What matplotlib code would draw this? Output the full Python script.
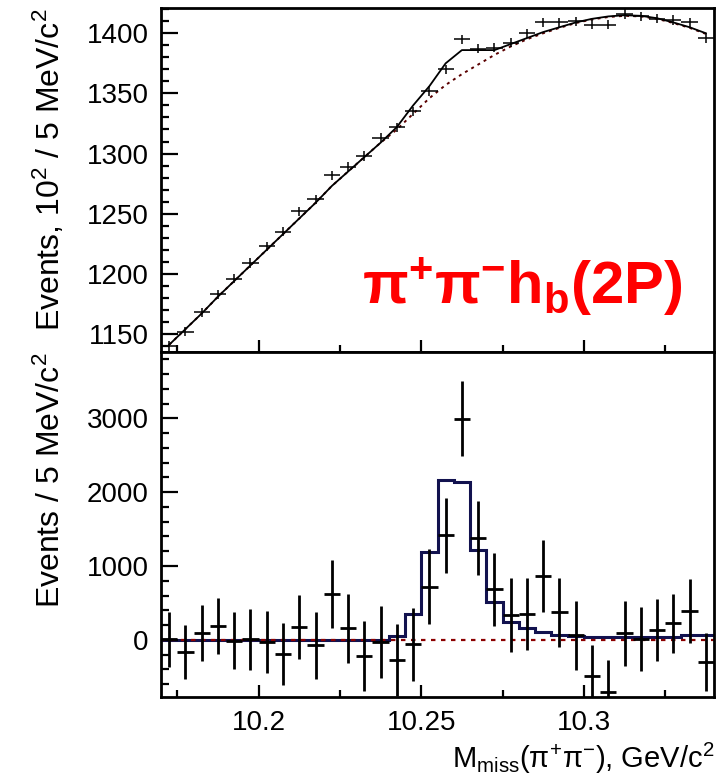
import numpy as np
import matplotlib
matplotlib.use("Agg")
from matplotlib import pyplot as plt
from matplotlib.ticker import MultipleLocator

plt.rcParams['font.family'] = ['Liberation Sans', 'DejaVu Sans']
plt.rcParams['mathtext.fontset'] = 'custom'
plt.rcParams['mathtext.rm'] = 'Liberation Sans'
plt.rcParams['mathtext.it'] = 'Liberation Sans:italic'
plt.rcParams['mathtext.bf'] = 'Liberation Sans:bold'

# 5 MeV bins from 10.17 to 10.34 GeV
bin_lo = 10.17
bin_w = 0.005
nbins = 34

# upper panel: events in units of 10^2
top_data = [1140, 1152, 1168, 1183, 1196, 1209, 1223, 1235, 1252, 1262,
            1282, 1289, 1298, 1313, 1322, 1335, 1352, 1370, 1395, 1387,
            1388, 1392, 1400, 1409, 1409, 1410, 1407, 1407, 1416, 1414,
            1412, 1411, 1409, 1396]
top_err = [3.8] * nbins
top_fit = [1141, 1154, 1167, 1181, 1194, 1207, 1220, 1233, 1246, 1259,
           1273, 1285, 1297, 1309, 1322, 1340, 1356, 1375, 1386, 1386,
           1386, 1391, 1396, 1401, 1405, 1409, 1412, 1414, 1415, 1414.5,
           1412.5, 1409, 1405, 1400]
top_bkg = [1141, 1154, 1167, 1181, 1194, 1207, 1220, 1233, 1246, 1259,
           1273, 1285, 1297, 1309, 1320, 1333, 1346, 1357, 1366, 1374,
           1382, 1389, 1395, 1400, 1404.5, 1408.5, 1411.5, 1413.5, 1414.5, 1414,
           1412, 1408.5, 1404.5, 1399.5]

# lower panel: background subtracted
bot_data = [10, -168, 95, 186, -10, 5, -35, -198, 177, -75,
            622, 154, -218, -31, -268, -59, 721, 1415, 2997, 1378,
            684, 335, 349, 866, 371, 59, -495, -707, 86, 10,
            131, 222, 390, -300]
bot_err = [372, 363, 379, 385, 385, 408, 420, 420, 435, 458,
           465, 465, 470, 488, 488, 494, 503, 505, 505, 505,
           494, 499, 488, 488, 470, 465, 431, 431, 440, 431,
           424, 404, 431, 392]
bot_fit = [0, 0, 0, 0, 0, 0, 0, 0, 0, 0,
           0, 0, 0, 0, 50, 350, 1185, 2170, 2140, 1220,
           510, 235, 155, 110, 65, 50, 35, 35, 35, 35,
           35, 35, 60, 60]

edges = bin_lo + bin_w * np.arange(nbins + 1)
centers = edges[:-1] + bin_w / 2

fig = plt.figure(figsize=(7.2, 7.81), dpi=100)
L, R = 161 / 720, 714 / 720
ax1 = fig.add_axes([L, 1 - 352 / 781, R - L, 344 / 781])
ax2 = fig.add_axes([L, 1 - 697 / 781, R - L, 345 / 781])

# top panel
ax1.plot(centers, top_bkg, color='#5a0000', ls=(0, (1.5, 2.2)), lw=1.4)
ax1.plot(centers, top_fit, color='k', lw=1.3)
ax1.errorbar(centers, top_data, xerr=bin_w / 2, yerr=top_err, fmt='none',
             ecolor='k', elinewidth=1.1, capsize=0)
ax1.set_ylim(1135, 1421)
ax1.set_yticks([1150, 1200, 1250, 1300, 1350, 1400])
ax1.yaxis.set_minor_locator(MultipleLocator(10))
ax1.set_ylabel(r'Events, 10$^{2}$ / 5 MeV/c$^{2}$', fontsize=23, loc='top',
               labelpad=14)
ax1.text(0.3635, 0.137, r'$\mathbf{\pi^{+}\pi^{-}h_{b}(2P)}$', color='#ff0000',
         fontsize=43, transform=ax1.transAxes, va='baseline', ha='left')

# bottom panel
ax2.axhline(0, color='#8b0000', ls=(0, (2, 2.5)), lw=1.6)
ax2.stairs(bot_fit, edges, color='#12124f', lw=2.2, baseline=None)
ax2.errorbar(centers, bot_data, xerr=bin_w / 2, yerr=bot_err, fmt='none',
             ecolor='k', elinewidth=2.0, capsize=0)
ax2.set_ylim(-775, 3900)
ax2.set_yticks([0, 1000, 2000, 3000])
ax2.yaxis.set_minor_locator(MultipleLocator(200))
ax2.set_ylabel(r'Events / 5 MeV/c$^{2}$', fontsize=23, loc='top',
               labelpad=14)
ax2.set_xlabel(r'M$_{\mathrm{miss}}$($\mathrm{\pi^{+}\pi^{-}}$), GeV/c$^{2}$',
               fontsize=21, loc='right', labelpad=4)

for ax in (ax1, ax2):
    ax.set_xlim(10.17, 10.34)
    ax.set_xticks([10.2, 10.25, 10.3])
    ax.xaxis.set_minor_locator(MultipleLocator(0.025))
    for s in ax.spines.values():
        s.set_linewidth(2.0)
    ax.tick_params(which='both', direction='in', top=False, right=False,
                   width=1.6, labelsize=20, pad=9)
    ax.tick_params(axis='y', which='major', length=12)
    ax.tick_params(axis='y', which='minor', length=6)
    ax.tick_params(axis='x', which='major', length=9)
    ax.tick_params(axis='x', which='minor', length=5)

ax1.tick_params(axis='x', labelbottom=False)
ax2.set_xticklabels(['10.2', '10.25', '10.3'])
fig.align_ylabels([ax1, ax2])

plt.savefig('out.png', dpi=100)
